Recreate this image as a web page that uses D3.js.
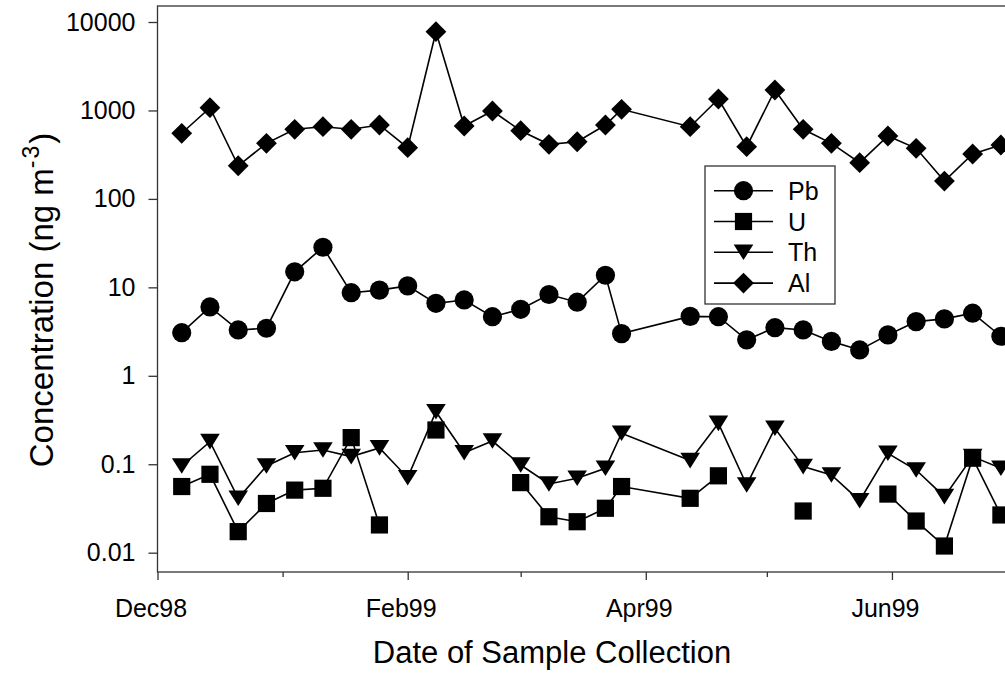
<!DOCTYPE html>
<html>
<head>
<meta charset="utf-8">
<script src="https://d3js.org/d3.v7.min.js"></script>
<style>
  body { margin: 0; background: #fff; }
  svg { display: block; font-family: "Liberation Sans", Arial, sans-serif; }
</style>
</head>
<body>
<div id="chart"></div>
<script>
// sample dates (weekly collections)
var sampleDates = ["1998-12-07", "1998-12-14", "1998-12-21", "1998-12-28",
  "1999-01-04", "1999-01-11", "1999-01-18", "1999-01-25",
  "1999-02-01", "1999-02-08", "1999-02-15", "1999-02-22",
  "1999-03-01", "1999-03-08", "1999-03-15", "1999-03-22", "1999-03-26",
  "1999-04-12", "1999-04-19", "1999-04-26",
  "1999-05-03", "1999-05-10", "1999-05-17", "1999-05-24", "1999-05-31",
  "1999-06-07", "1999-06-14", "1999-06-21", "1999-06-28"];

// concentrations in ng m-3 (null = no value)
var pbValues = [3.07, 6.0, 3.3, 3.45, 15.0, 28.4, 8.7, 9.3, 10.4, 6.6, 7.2, 4.66, 5.65,
  8.3, 6.8, 13.7, 3.0, 4.7, 4.66, 2.55, 3.5, 3.3, 2.45, 1.96, 2.9, 4.1, 4.4, 5.1, 2.8];
var uValues = [0.056, 0.077, 0.0173, 0.036, 0.051, 0.0535, 0.20, 0.0206, null, 0.244, null, null,
  0.062, 0.0255, 0.0224, 0.0318, 0.056, 0.0412, 0.074, null, null, 0.0296, null, null,
  0.046, 0.0228, 0.0119, 0.117, 0.0267];
var thValues = [0.0955, 0.18, 0.0412, 0.0955, 0.135, 0.145, 0.122, 0.153, 0.0705, 0.393, 0.135, 0.183,
  0.098, 0.0598, 0.0694, 0.090, 0.224, 0.110, 0.290, 0.0583, 0.255, 0.094, 0.0756, 0.0387,
  0.133, 0.086, 0.043, 0.122, 0.090];
var alValues = [552, 1074, 237, 425, 612, 655, 612, 685, 379, 7770, 667, 986, 590, 414, 443, 685,
  1030, 655, 1347, 389, 1703, 612, 425, 257, 514, 373, 159, 322, 407];

var seriesNames = ["Pb", "U", "Th", "Al"];
var seriesSymbols = ["circle", "square", "triangle", "diamond"];

// axis ticks
var xMajorTicks = ["1998-12-01", "1999-02-01", "1999-04-01", "1999-06-01"];
var xMajorLabels = ["Dec98", "Feb99", "Apr99", "Jun99"];
var xMinorTicks = ["1999-01-01", "1999-03-01", "1999-05-01"];
var yTickValues = [0.01, 0.1, 1, 10, 100, 1000, 10000];
var yTickLabels = ["0.01", "0.1", "1", "10", "100", "1000", "10000"];

var svgWidth = 1005;
var svgHeight = 675;

var margin = { top: 6, left: 157.5, bottom: 103 };
var plotRight = 1013; // frame runs off the right edge of the picture
var plotBottom = svgHeight - margin.bottom;

var parseDate = d3.timeParse("%Y-%m-%d");

var svg = d3.select("#chart")
  .append("svg")
  .attr("width", svgWidth)
  .attr("height", svgHeight);

var xScale = d3.scaleTime()
  .domain([parseDate("1998-12-01"), parseDate("1999-07-01")])
  .range([margin.left, plotRight]);

var yScale = d3.scaleLog()
  .domain([0.00605, 15170])
  .range([plotBottom, margin.top]);

// build series table
var allValues = [pbValues, uValues, thValues, alValues];
var series = seriesNames.map(function(name, i) {
  return {
    name: name,
    symbol: seriesSymbols[i],
    points: sampleDates.map(function(d, j) {
      return { date: parseDate(d), value: allValues[i][j] };
    })
  };
});

// marker shapes, centred on 0,0
function symbolPath(type) {
  if (type === "circle") return d3.symbol().type(d3.symbolCircle).size(Math.PI * 9.6 * 9.6)();
  if (type === "square") return "M-8.6,-8.6H8.6V8.6H-8.6Z";
  if (type === "triangle") return "M-9.8,-7.8H9.8L0,7.8Z";
  return "M0,-10.4L10.4,0L0,10.4L-10.4,0Z";
}

// frame
svg.append("rect")
  .attr("x", margin.left)
  .attr("y", margin.top)
  .attr("width", plotRight - margin.left)
  .attr("height", plotBottom - margin.top)
  .attr("fill", "none")
  .attr("stroke", "#333")
  .attr("stroke-width", 1.3);

// y axis
var yAxis = d3.axisLeft(yScale)
  .tickValues(yTickValues)
  .tickFormat(function(d, i) { return yTickLabels[i]; })
  .tickSize(9)
  .tickPadding(13);

var yAxisGroup = svg.append("g")
  .attr("transform", `translate(${margin.left}, 0)`)
  .call(yAxis);

// x axis major ticks
var xAxis = d3.axisBottom(xScale)
  .tickValues(xMajorTicks.map(parseDate))
  .tickFormat(function(d, i) { return xMajorLabels[i]; })
  .tickSize(8)
  .tickPadding(19);

var xAxisGroup = svg.append("g")
  .attr("transform", `translate(0, ${plotBottom})`)
  .call(xAxis);

xAxisGroup.selectAll(".tick text").attr("dx", -7);

// x axis minor ticks
var xMinorAxis = d3.axisBottom(xScale)
  .tickValues(xMinorTicks.map(parseDate))
  .tickFormat("")
  .tickSize(5);

var xMinorGroup = svg.append("g")
  .attr("transform", `translate(0, ${plotBottom})`)
  .call(xMinorAxis);

[yAxisGroup, xAxisGroup, xMinorGroup].forEach(function(g) {
  g.select(".domain").remove();
  g.selectAll(".tick line").attr("stroke", "#333").attr("stroke-width", 1.3);
  g.selectAll(".tick text")
    .attr("fill", "#000")
    .attr("font-size", "25px")
    .attr("font-family", "Liberation Sans, Arial, sans-serif");
});

// lines and markers
var line = d3.line()
  .defined(d => d.value != null)
  .x(d => xScale(d.date))
  .y(d => yScale(d.value));

var drawOrder = [0, 2, 1, 3];
drawOrder.forEach(function(i) {
  var s = series[i];
  svg.append("path")
    .datum(s.points)
    .attr("d", line)
    .attr("fill", "none")
    .attr("stroke", "#000")
    .attr("stroke-width", 1.6);

  svg.selectAll(".mark-" + s.name)
    .data(s.points.filter(d => d.value != null))
    .enter()
    .append("path")
    .attr("class", "mark-" + s.name)
    .attr("d", symbolPath(s.symbol))
    .attr("transform", d => `translate(${xScale(d.date)}, ${yScale(d.value)})`)
    .attr("fill", "#000");
});

// legend
var legend = svg.append("g");

legend.append("rect")
  .attr("x", 705)
  .attr("y", 166)
  .attr("width", 130)
  .attr("height", 138)
  .attr("fill", "#fff")
  .attr("stroke", "#333")
  .attr("stroke-width", 1.3);

var legendRows = legend.selectAll(".legend-row")
  .data(series)
  .enter()
  .append("g")
  .attr("class", "legend-row")
  .attr("transform", (d, i) => `translate(0, ${190.7 + i * 30.8})`);

legendRows.append("line")
  .attr("x1", 714)
  .attr("x2", 773)
  .attr("stroke", "#000")
  .attr("stroke-width", 1.6);

legendRows.append("path")
  .attr("d", d => symbolPath(d.symbol))
  .attr("transform", "translate(743.5, 0)")
  .attr("fill", "#000");

legendRows.append("text")
  .attr("x", 788)
  .attr("y", 9)
  .attr("font-size", "25px")
  .text(d => d.name);

// axis titles
var yTitle = svg.append("text")
  .attr("transform", "translate(53, 300) rotate(-90)")
  .attr("text-anchor", "middle")
  .attr("font-size", "33px");

yTitle.append("tspan").text("Concentration (ng m");
yTitle.append("tspan").attr("font-size", "23px").attr("dy", -14).attr("letter-spacing", "2px").text("-3");
yTitle.append("tspan").attr("dy", 14).text(")");

svg.append("text")
  .attr("x", 552)
  .attr("y", 663)
  .attr("text-anchor", "middle")
  .attr("font-size", "31px")
  .text("Date of Sample Collection");
</script>
</body>
</html>
